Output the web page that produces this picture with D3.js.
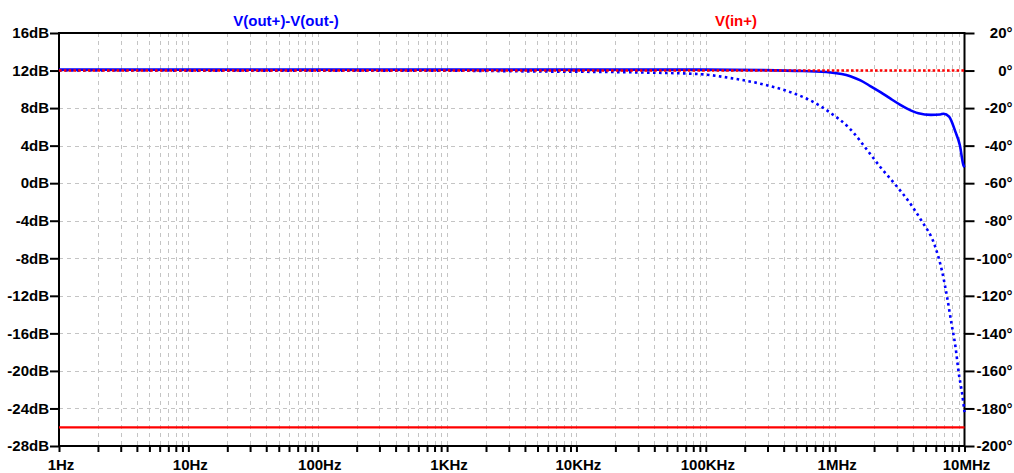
<!DOCTYPE html>
<html>
<head>
<meta charset="utf-8">
<script src="https://cdn.jsdelivr.net/npm/d3@7"></script>
<style>
  html, body { margin: 0; padding: 0; background: #fff; }
  svg { display: block; }
  text { font-family: "Liberation Sans", Arial, sans-serif; font-weight: bold; font-size: 15px; }
</style>
</head>
<body>
<svg id="chart" width="1014" height="473"></svg>
<script>
// Axis ticks and labels
const freqTicks = [1, 10, 100, 1e3, 1e4, 1e5, 1e6, 1e7];
const freqLabels = ["1Hz", "10Hz", "100Hz", "1KHz", "10KHz", "100KHz", "1MHz", "10MHz"];
const dbTicks = [16, 12, 8, 4, 0, -4, -8, -12, -16, -20, -24, -28];
const degTicks = [20, 0, -20, -40, -60, -80, -100, -120, -140, -160, -180, -200];

// V(out+)-V(out-): magnitude (dB) and phase (deg)
const outMagFreq = [1, 1e3, 1e4, 1e5, 2.8e5, 5.6e5, 9.2e5, 1.31e6, 1.57e6, 1.87e6, 2.24e6, 2.68e6, 3.19e6, 3.6e6, 4.4e6, 5.5e6, 6.5e6, 6.9e6, 7.6e6, 8.5e6, 9.2e6, 9.8e6, 1e7];
const outMagDb = [12.1, 12.1, 12.1, 12.1, 12.05, 11.95, 11.8, 11.4, 10.95, 10.35, 9.7, 9.0, 8.35, 7.95, 7.45, 7.28, 7.32, 7.4, 7.08, 5.49, 4.07, 1.94, 1.7];

const outPhFreq = [1, 1e3, 5e3, 3e4, 9e4, 1.55e5, 2.64e5, 4.5e5, 6.6e5, 9.18e5, 1.28e6, 1.87e6, 2.24e6, 2.9e6, 3.82e6, 4.6e6, 5.95e6, 6.71e6, 7.33e6, 7.92e6, 8.51e6, 9.02e6, 9.58e6, 1e7];
const outPhDeg = [0, -0.1, -0.5, -1, -1.9, -4, -7, -11.5, -16.3, -22.5, -30.5, -44.5, -51.5, -60.5, -71, -79.5, -94, -107, -120.5, -134.5, -147, -161, -172, -182];

// V(in+): magnitude (dB) and phase (deg)
const inFreq = [1, 1e7];
const inMagDb = [-26.02, -26.02];
const inPhDeg = [0, 0];

const svg = d3.select("#chart");
const L = 59, R = 964.5, T = 33, B = 446;

const x = d3.scaleLog().domain([1, 1e7]).range([L, R]);
const yDb = d3.scaleLinear().domain([-28, 16]).range([B, T]);
const yDeg = d3.scaleLinear().domain([-200, 20]).range([B, T]);

// Minor frequency positions (1..9 per decade)
const minorFreqs = [];
for (let d = 0; d < 7; d++) {
  for (let m = 1; m <= 9; m++) minorFreqs.push(m * Math.pow(10, d));
}
minorFreqs.push(1e7);

// Grid
const grid = svg.append("g")
  .attr("stroke", "#c4c4c4")
  .attr("stroke-width", 1)
  .attr("stroke-dasharray", "4,4");
grid.selectAll("line.v")
  .data(minorFreqs.filter(f => f > 1 && f < 1e7))
  .join("line")
  .attr("x1", d => Math.round(x(d)) + 0.5)
  .attr("x2", d => Math.round(x(d)) + 0.5)
  .attr("y1", T).attr("y2", B);
grid.selectAll("line.h")
  .data(dbTicks.filter(d => d < 16 && d > -28))
  .join("line")
  .attr("class", "h")
  .attr("x1", L).attr("x2", R)
  .attr("y1", d => Math.round(yDb(d)) + 0.5)
  .attr("y2", d => Math.round(yDb(d)) + 0.5);

// Axes
const xAxis = d3.axisBottom(x)
  .tickValues(minorFreqs)
  .tickSize(6)
  .tickFormat(d => {
    const i = freqTicks.indexOf(d);
    return i >= 0 ? freqLabels[i] : "";
  });
const gx = svg.append("g").attr("transform", `translate(0,${B})`).call(xAxis);
gx.select(".domain").remove();
gx.selectAll(".tick line").attr("stroke", "#000").attr("stroke-width", 2);
gx.selectAll(".tick text").attr("fill", "#000").attr("dy", 0).attr("y", 24).attr("dx", 1.5)
  .style("font-size", "15px");

const yAxisL = d3.axisLeft(yDb).tickValues(dbTicks).tickSize(9).tickPadding(1)
  .tickFormat(d => d + "dB");
const gyl = svg.append("g").attr("transform", `translate(${L},0)`).call(yAxisL);
gyl.select(".domain").remove();
gyl.selectAll(".tick line").attr("stroke", "#000").attr("stroke-width", 2);
gyl.selectAll(".tick text").attr("fill", "#000").style("font-size", "15px");

const yAxisR = d3.axisRight(yDeg).tickValues(degTicks).tickSize(10)
  .tickFormat(d => d + "°");
const gyr = svg.append("g").attr("transform", `translate(${R},0)`).call(yAxisR);
gyr.select(".domain").remove();
gyr.selectAll(".tick line").attr("stroke", "#000").attr("stroke-width", 2);
gyr.selectAll(".tick text").attr("fill", "#000").attr("text-anchor", "end")
  .attr("x", 1012.5 - R).style("font-size", "15px");

// Frame
svg.append("rect")
  .attr("x", L).attr("y", T)
  .attr("width", R - L).attr("height", B - T)
  .attr("fill", "none").attr("stroke", "#000").attr("stroke-width", 2);

// Traces
const plot = svg.append("g");
const magLine = d3.line().x(d => x(d[0])).y(d => yDb(d[1])).curve(d3.curveMonotoneX);
const phLine = d3.line().x(d => x(d[0])).y(d => yDeg(d[1])).curve(d3.curveMonotoneX);

plot.append("path")
  .datum(d3.zip(inFreq, inMagDb))
  .attr("d", magLine)
  .attr("fill", "none").attr("stroke", "#ff0000").attr("stroke-width", 2.2);

plot.append("path")
  .datum(d3.zip(outMagFreq, outMagDb))
  .attr("d", magLine)
  .attr("fill", "none").attr("stroke", "#0000ff").attr("stroke-width", 2.6)
  .attr("stroke-linejoin", "round");

plot.append("path")
  .datum(d3.zip(outPhFreq, outPhDeg))
  .attr("d", phLine)
  .attr("fill", "none").attr("stroke", "#0000ff").attr("stroke-width", 2.6)
  .attr("stroke-dasharray", "2.6,3.4");

plot.append("path")
  .datum(d3.zip(inFreq, inPhDeg))
  .attr("d", phLine)
  .attr("fill", "none").attr("stroke", "#ff0000").attr("stroke-width", 2.4)
  .attr("stroke-dasharray", "2.6,2.2");

// Trace names
svg.append("text").attr("x", 286).attr("y", 25.5).attr("text-anchor", "middle")
  .attr("fill", "#0000ff").text("V(out+)-V(out-)");
svg.append("text").attr("x", 736).attr("y", 25.5).attr("text-anchor", "middle")
  .attr("fill", "#ff0000").text("V(in+)");
</script>
</body>
</html>
